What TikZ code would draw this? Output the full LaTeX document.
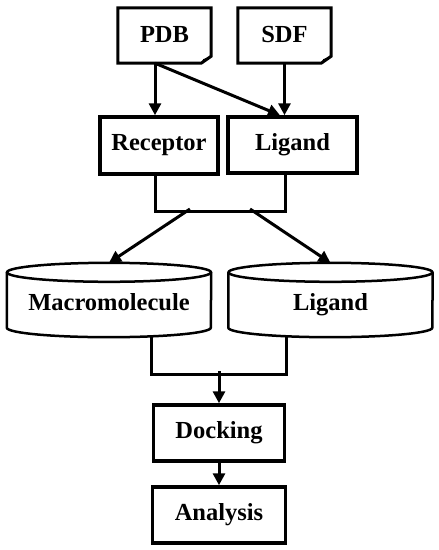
\documentclass[tikz,border=0pt]{standalone}
\usepackage{fontspec}
\setmainfont{Liberation Serif}
\usetikzlibrary{arrows.meta}

\begin{document}
\begin{tikzpicture}[x=1pt,y=-1pt,
        lbl/.style={font=\fontsize{24.5}{28}\selectfont\bfseries,inner sep=0pt,text height=16pt,text depth=3pt},
        box/.style={lbl,rectangle,draw,line width=3.5pt,text depth=6pt},
        db/.style={lbl,text height=20pt,text depth=0pt,minimum width=204pt,minimum height=74pt},
        link/.style={line width=3pt},
        arr/.style={link,-{Triangle[length=12pt,width=12pt]}}]
    \useasboundingbox (0,0) rectangle (439,550);

    % files
    \node [lbl,minimum width=93pt,minimum height=55pt] (pdb) at (164.5,35.5) {PDB};
    \node [lbl,minimum width=93pt,minimum height=55pt] (sdf) at (284.5,35.5) {SDF};
    \foreach \f in {pdb,sdf} {
        \draw [line width=3pt] (\f.north west) -- (\f.north east) -- ([yshift=7pt]\f.south east)
            -- ([xshift=-10pt]\f.south east) -- (\f.south west) -- cycle;
        \fill ([xshift=-10pt]\f.south east) -- ([yshift=7pt]\f.south east) -- ([xshift=-8pt,yshift=4pt]\f.south east) -- cycle;
    }

    % preparation
    \node [box,minimum width=118pt,minimum height=57pt] (rec) at (159,145.5) {Receptor};
    \node [box,minimum width=129pt,minimum height=56pt] (lig) at (292.5,145) {Ligand};

    % databases
    \node [db] (macro) at (109,300) {Macromolecule};
    \node [db] (lig2) at (330.5,300) {Ligand};
    \foreach \c in {macro,lig2} {
        \draw [line width=2.5pt] ([yshift=-9.5pt]\c.north) ellipse [x radius=102pt, y radius=9.5pt];
        \draw [line width=2.5pt] ([yshift=-9.5pt]\c.north west) -- ([yshift=9.5pt]\c.south west)
            arc [start angle=180, end angle=360, x radius=102pt, y radius=9.5pt] -- ([yshift=-9.5pt]\c.north east);
    }

    \node [box,minimum width=131pt,minimum height=56pt] (dock) at (219,433) {Docking};
    \node [box,minimum width=133pt,minimum height=56pt] (ana) at (219,515) {Analysis};

    \coordinate (forkl) at (190,209);
    \coordinate (forkr) at (250,209);

    \draw [arr] ([xshift=-9.5pt]pdb.south) -- ([xshift=-4pt]rec.north);
    \draw [arr] ([xshift=-9.5pt]pdb.south) -- ([xshift=-12.5pt]lig.north);
    \draw [arr] (sdf.south) -- (sdf.south |- lig.north);
    \draw [link] ([xshift=-4pt]rec.south) -- ++(0,35.5) -| ([xshift=-7.5pt]lig.south);
    \draw [arr] (forkl) -- (macro.north);
    \draw [arr] (forkr) -- (lig2.north);
    \draw [link] (macro.south -| dock.west) -- ++(0,37) -| (lig2.south -| dock.east);
    \draw [arr] ([yshift=32pt]dock.north) -- (dock.north);
    \draw [arr] (dock.south) -- (ana.north);
\end{tikzpicture}
\end{document}
